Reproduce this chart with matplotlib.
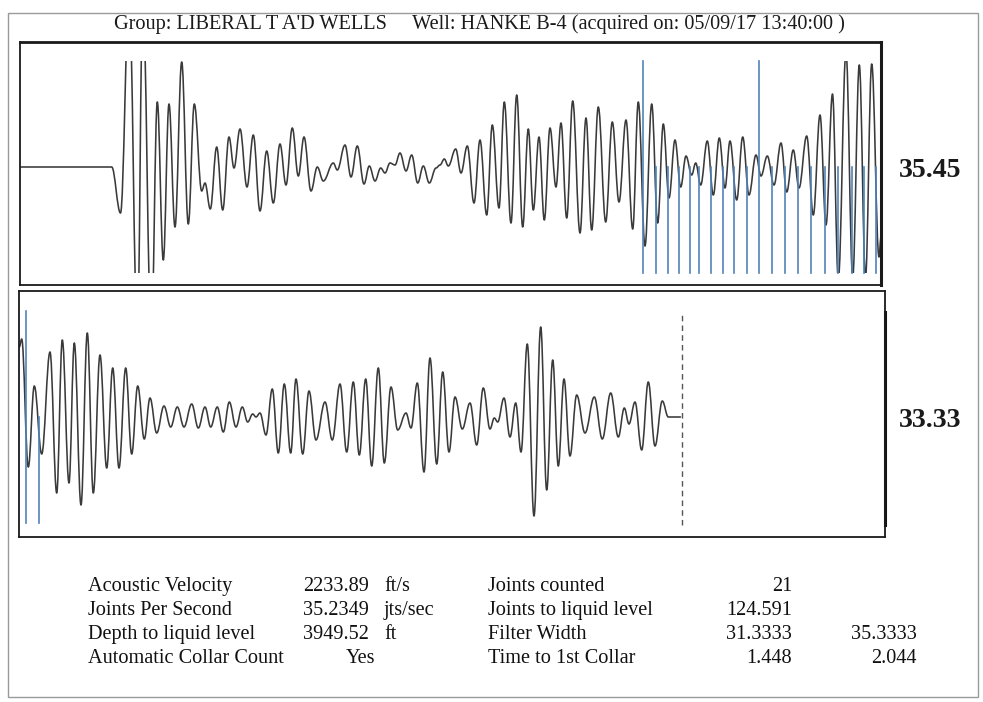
import matplotlib
matplotlib.use("Agg")
import matplotlib.pyplot as plt
from matplotlib.patches import Rectangle, PathPatch
from matplotlib.path import Path

plt.rcParams['font.family'] = ['Liberation Serif', 'DejaVu Serif']

# ---------------- data (trace extrema) ----------------
# x: sample position along the trace, y: amplitude (arbitrary units)
top_x = [20, 111.7, 120.5, 129.2, 137.4, 142.8, 151.3, 157.3, 163.3, 169, 175, 181.7, 188.3,
         194.3, 201.7, 205, 210.3, 216.7, 222.7, 229, 234, 240, 247, 253.3, 260, 266.7, 273.3,
         280, 286, 292.3, 298.3, 304, 311, 317.3, 323.3, 333.3, 337.3, 345, 351, 357.3, 364,
         369.3, 375, 380.7, 385, 390, 395, 400, 406, 411.7, 417.7, 423.3, 429.3, 436, 440,
         444.3, 448.3, 455.7, 461, 467.3, 474, 480, 486.7, 492.3, 499, 504.3, 511, 516.7,
         522.7, 528.3, 533.3, 539, 544.3, 550, 556, 561, 566.7, 572.7, 580, 586, 591.7, 598.3,
         605.7, 612.3, 619, 626, 632.7, 638.3, 645, 651.7, 657.7, 663.3, 669, 675, 680.7, 686,
         691.7, 695.7, 700.7, 707.3, 713.3, 719.3, 725, 730, 736.7, 742.7, 749, 756, 761,
         767.3, 774, 781, 786.7, 793.3, 799, 806.7, 813.3, 820, 826, 832.5, 838.3, 846,
         852.7, 859.3, 865.5, 871.7, 879, 881]
top_y = [0, 0, -46, 170, -170, 170, -170, 65, -93, 63, -60, 105, -57,
         63, -24, -16, -42, 20, -43, 30, -1, 38, -20, 32, -44, 16, -36,
         23, -18, 39, -9, 30, -24, 0, -14, 4, -3, 22, -10, 21, -17,
         1, -14, -1, -6, 4, 2, 14, -4, 12, -16, 1, -16, -1, 2,
         8, 1, 18, -6, 21, -36, 27, -48, 42, -41, 65, -56, 72,
         -60, 38, -43, 30, -53, 39, -20, 44, -51, 66, -66, 49, -63, 60,
         -55, 45, -35, 47, -62, 65, -79, 63, -56, 43, -31, 27, -20, 11,
         -8, 4, -18, 26, -28, 29, -21, 26, -33, 30, -28, 12, -9,
         11, -18, 24, -25, 17, -21, 31, -48, 52, -58, 73, -112, 115,
         -110, 102, -110, 103, -90, -70]

bot_x = [19.3, 21.7, 28.3, 34.3, 41.7, 50, 56.7, 62.3, 69, 74.3, 81, 87.3, 93.3, 100, 106.7,
         112.7, 119, 125.7, 131.7, 137.7, 144.3, 150, 156.7, 164, 170.7, 177.3, 184, 191.7,
         198.3, 205, 210.7, 217.3, 223.3, 229.3, 236, 242.3, 247.7, 252.7, 256, 260, 266,
         272.3, 278.3, 284.3, 290.7, 296, 302.7, 309, 316, 325, 332.3, 340, 346.7, 353.3,
         359.3, 365.7, 371.7, 378.3, 384.3, 391, 397.7, 406, 411, 417.3, 424, 430, 436.7,
         442.7, 449, 455, 462.3, 470, 476.7, 483.3, 490, 494.3, 497.7, 504, 510, 515.7, 521,
         527.3, 534, 540.7, 546.7, 552.7, 558.3, 564, 570, 576.7, 585, 594.3, 602.3, 610.7,
         618.3, 624.3, 629, 635, 641.7, 648.3, 655, 662.3, 668.3, 680.5]
bot_y = [70, 78, -50, 31, -37, 65, -76, 77, -66, 74, -88, 84, -76, 62, -51,
         49, -51, 49, -37, 31, -22, 19, -16, 11, -10, 10, -10, 13,
         -11, 10, -10, 10, -15, 15, -10, 10, -5, 3, 0, 4, -18,
         28, -36, 33, -36, 38, -37, 26, -23, 15, -23, 33, -35, 35,
         -38, 38, -49, 49, -46, 30, -13, 4, -11, 34, -55, 59, -47,
         45, -35, 20, -12, 14, -28, 29, -12, -1, -5, 19, -20, 14, -35,
         73, -99, 90, -73, 57, -49, 38, -39, 22, -16, 20, -22, 24,
         -20, 9, -7, 15, -33, 35, -29, 16, 0, 0]

# collar markers (blue lines): positions and whether full-height
top_collars = [643.3, 656, 667.7, 678.7, 690, 699.3, 711, 723.3, 734.3, 747.3, 759.3,
               771.7, 785, 797.7, 811.3, 825, 838, 851.7, 864, 876.3]
top_collar_tall = [True, False, False, False, False, False, False, False, False, False, True,
                   False, False, False, False, False, False, False, False, False]
bot_collars = [26, 38.7]
bot_collar_tall = [True, False]
bot_liquid_marker = 682.3

panel_values = ["35.45", "33.33"]

title_text = "Group: LIBERAL T A'D WELLS     Well: HANKE B-4 (acquired on: 05/09/17 13:40:00 )"

table_labels_left = ["Acoustic Velocity", "Joints Per Second", "Depth to liquid level",
                     "Automatic Collar Count"]
table_values_left = ["2233.89", "35.2349", "3949.52", "Yes"]
table_units_left = ["ft/s", "jts/sec", "ft", ""]
table_labels_right = ["Joints counted", "Joints to liquid level", "Filter Width",
                      "Time to 1st Collar"]
table_values_right1 = ["21", "124.591", "31.3333", "1.448"]
table_values_right2 = ["", "", "35.3333", "2.044"]

# ---------------- drawing ----------------
W, H = 983, 702
fig = plt.figure(figsize=(W / 100, H / 100), dpi=100)
fig.patch.set_facecolor("white")


def fx(px):
    return px / W


def fy(py):
    return 1 - py / H


# outer frame
fig.patches.append(Rectangle((fx(8), fy(697)), fx(978) - fx(8), fy(13) - fy(697),
                             transform=fig.transFigure, fill=False,
                             edgecolor="#9a9a9a", linewidth=1.0))

trace_color = "#3a3a3a"
blue = "#4f84b8"
CLIP = 106


def smooth_trace(ax, xs, ys, clip_rect):
    """Draw the trace through its extrema as a smooth Bezier path
    (horizontal tangents at each extremum)."""
    verts = [(xs[0], ys[0])]
    codes = [Path.MOVETO]
    for (x0, y0), (x1, y1) in zip(zip(xs[:-1], ys[:-1]), zip(xs[1:], ys[1:])):
        d = (x1 - x0) * 0.38
        verts += [(x0 + d, y0), (x1 - d, y1), (x1, y1)]
        codes += [Path.CURVE4] * 3
    patch = PathPatch(Path(verts, codes), facecolor="none", edgecolor=trace_color,
                      lw=1.15, joinstyle="round", capstyle="round")
    ax.add_patch(patch)
    patch.set_clip_path(clip_rect)


def make_panel(x0, x1, ytop, ybot, base):
    ax = fig.add_axes([fx(x0), fy(ybot), fx(x1) - fx(x0), fy(ytop) - fy(ybot)])
    ax.set_xlim(x0, x1)
    ax.set_ylim(base - ybot, base - ytop)
    ax.set_xticks([])
    ax.set_yticks([])
    for s in ax.spines.values():
        s.set_color("#1a1a1a")
        s.set_linewidth(1.3)
    return ax


ax1 = make_panel(20, 881, 42, 285, 167)
ax1.spines['right'].set_linewidth(2.2)
ax1.spines['top'].set_linewidth(2.0)
clip1 = Rectangle((20, -CLIP), 861, 2 * CLIP, transform=ax1.transData)
smooth_trace(ax1, top_x, top_y, clip1)
for xc, tall in zip(top_collars, top_collar_tall):
    ax1.plot([xc, xc], [-CLIP, CLIP if tall else 0], color=blue, lw=1.2, zorder=3)

ax2 = make_panel(19, 885, 291, 537, 417)
clip2 = Rectangle((19, -CLIP), 866, 2 * CLIP, transform=ax2.transData)
smooth_trace(ax2, bot_x, bot_y, clip2)
for xc, tall in zip(bot_collars, bot_collar_tall):
    ax2.plot([xc, xc], [-CLIP, CLIP if tall else 0], color=blue, lw=1.2, zorder=3)
ax2.plot([bot_liquid_marker, bot_liquid_marker], [-108, 105], color="#555555", lw=1.0,
         linestyle=(0, (4, 3)))
ax2.plot([884.5, 884.5], [-108, 105], color="#111111", lw=2.2, clip_on=False)

# panel values
fig.text(fx(930), fy(177), panel_values[0], ha="center", va="baseline",
         fontsize=20, fontweight="bold", color="#1a1a1a")
fig.text(fx(930), fy(427), panel_values[1], ha="center", va="baseline",
         fontsize=20, fontweight="bold", color="#1a1a1a")

# title
fig.text(fx(479), fy(29), title_text, ha="center", va="baseline", fontsize=14.6,
         color="#1a1a1a")

# table
rows_y = [591, 615, 639, 663]
fs = 14.6
for i, y in enumerate(rows_y):
    kw = dict(va="baseline", fontsize=fs, color="#111111")
    fig.text(fx(88), fy(y), table_labels_left[i], ha="left", **kw)
    if table_values_left[i] == "Yes":
        fig.text(fx(375), fy(y), table_values_left[i], ha="right", **kw)
    else:
        fig.text(fx(303), fy(y), table_values_left[i], ha="left", **kw)
    fig.text(fx(384), fy(y), table_units_left[i], ha="left", **kw)
    fig.text(fx(488), fy(y), table_labels_right[i], ha="left", **kw)
    fig.text(fx(792), fy(y), table_values_right1[i], ha="right", **kw)
    if table_values_right2[i]:
        fig.text(fx(917), fy(y), table_values_right2[i], ha="right", **kw)

fig.savefig("out.png", dpi=100, facecolor="white")
